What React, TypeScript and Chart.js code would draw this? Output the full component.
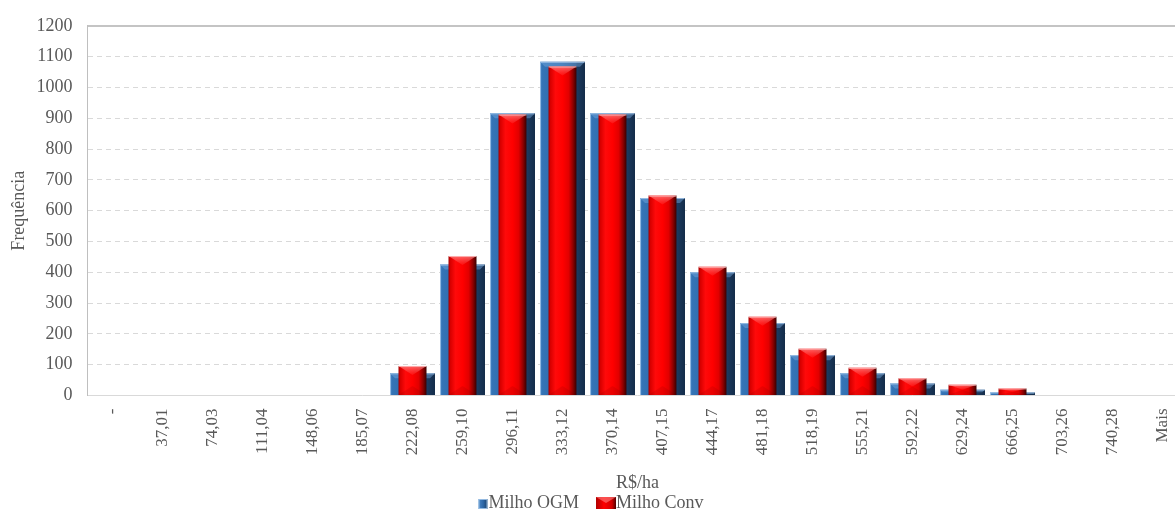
import { useEffect, useRef } from 'react';
import { Chart, registerables } from 'chart.js';

Chart.register(...registerables);

// Class limits (R$/ha) of the frequency histogram
const categories = [
  '-', '37,01', '74,03', '111,04', '148,06', '185,07', '222,08', '259,10',
  '296,11', '333,12', '370,14', '407,15', '444,17', '481,18', '518,19',
  '555,21', '592,22', '629,24', '666,25', '703,26', '740,28', 'Mais',
];

// Frequencies per class
const milhoOGM = [0, 0, 0, 0, 0, 0, 72, 425, 916, 1083, 916, 641, 400, 235, 131, 72, 39, 19, 10, 0, 0, 0];
const milhoConv = [0, 0, 0, 0, 0, 0, 96, 453, 912, 1068, 912, 649, 418, 256, 152, 90, 56, 35, 23, 0, 0, 0];

// Value axis
const yMin = 0;
const yMax = 1200;
const yStep = 100;

const FONT = "'Liberation Serif', 'Times New Roman', Times, serif";
const TEXT = '#595959';

const BAR_PCT: Record<string, number> = { ogm: 0.9, conv: 0.56 };

const STOPS: Record<string, [number, string][]> = {
  ogm: [
    [0, '#4B88C8'],
    [0.05, '#3574B6'],
    [0.5, '#2B65A4'],
    [0.79, '#22497A'],
    [0.83, '#1B3A5F'],
    [1, '#142C49'],
  ],
  conv: [
    [0, '#A00000'],
    [0.07, '#D80000'],
    [0.25, '#FF0A0A'],
    [0.5, '#FF0000'],
    [0.72, '#E20000'],
    [0.88, '#8A0000'],
    [1, '#380000'],
  ],
};

// Horizontal shading across each bar, anchored on the category scale
function barFill(kind: string) {
  return (ctx: any) => {
    const chart = ctx.chart;
    const xs = chart.scales && chart.scales.x;
    const fallback = kind === 'ogm' ? '#2B65A4' : '#F00000';
    if (ctx.type !== 'data' || !xs || !chart.chartArea) return fallback;
    const cx = xs.getPixelForValue(ctx.dataIndex);
    const w = (xs.width / categories.length) * BAR_PCT[kind];
    const g = chart.ctx.createLinearGradient(cx - w / 2, 0, cx + w / 2, 0);
    STOPS[kind].forEach(([o, c]) => g.addColorStop(o, c));
    return g;
  };
}

// Bevel highlights drawn over each bar after its dataset is painted
const bevelPlugin = {
  id: 'barBevel',
  afterDatasetDraw(chart: any, args: any) {
    const ds = chart.data.datasets[args.index];
    const kind = ds.bevel;
    const ctx = chart.ctx;
    ctx.save();
    args.meta.data.forEach((el: any) => {
      const { x, y, base, width } = el.getProps(['x', 'y', 'base', 'width'], true);
      const height = base - y;
      if (height <= 0.5) return;
      const left = x - width / 2;
      const right = x + width / 2;
      if (kind === 'conv') {
        const h = Math.min(9, height / 2);
        const g = ctx.createLinearGradient(0, y, 0, y + h);
        g.addColorStop(0, 'rgba(255,150,150,0.7)');
        g.addColorStop(1, 'rgba(255,70,70,0.25)');
        ctx.fillStyle = g;
        ctx.beginPath();
        ctx.moveTo(left, y);
        ctx.lineTo(right, y);
        ctx.lineTo(x, y + h);
        ctx.closePath();
        ctx.fill();
        ctx.fillStyle = 'rgba(90,0,0,0.12)';
        ctx.beginPath();
        ctx.moveTo(left, base);
        ctx.lineTo(right, base);
        ctx.lineTo(x, base - h);
        ctx.closePath();
        ctx.fill();
        ctx.strokeStyle = 'rgba(255,200,200,0.75)';
        ctx.lineWidth = 1;
        ctx.beginPath();
        ctx.moveTo(left, y + 0.5);
        ctx.lineTo(right, y + 0.5);
        ctx.stroke();
      } else {
        const b = Math.min(5, height / 2);
        ctx.fillStyle = 'rgba(120,170,225,0.45)';
        ctx.beginPath();
        ctx.moveTo(left, y);
        ctx.lineTo(right, y);
        ctx.lineTo(right - b, y + b);
        ctx.lineTo(left + b, y + b);
        ctx.closePath();
        ctx.fill();
        ctx.strokeStyle = 'rgba(160,195,232,0.85)';
        ctx.lineWidth = 1;
        ctx.beginPath();
        ctx.moveTo(left + 0.5, base);
        ctx.lineTo(left + 0.5, y + 0.5);
        ctx.lineTo(right - 0.5, y + 0.5);
        ctx.stroke();
      }
    });
    ctx.restore();
  },
};

// Legend with small shaded swatches placed under the axis title
const swatchLegend = {
  id: 'swatchLegend',
  afterDraw(chart: any, _args: any, opts: any) {
    const ctx = chart.ctx;
    ctx.save();
    ctx.font = `${opts.size}px ${FONT}`;
    ctx.textBaseline = 'alphabetic';
    ctx.textAlign = 'left';
    const items = chart.data.datasets.map((ds: any) => ({ label: ds.label, kind: ds.bevel }));
    const swW = (k: string) => (k === 'ogm' ? 10 : 20);
    const widths = items.map((it: any) => swW(it.kind) + ctx.measureText(it.label).width);
    const total = widths.reduce((a: number, b: number) => a + b, 0) + opts.gap * (items.length - 1);
    let x = opts.centerX - total / 2;
    const base = opts.baseline;
    items.forEach((it: any, i: number) => {
      const w = swW(it.kind);
      if (it.kind === 'ogm') {
        const top = base - 9;
        const g = ctx.createLinearGradient(x, 0, x + w, 0);
        g.addColorStop(0, '#4A87C7');
        g.addColorStop(0.5, '#2B65A4');
        g.addColorStop(1, '#183659');
        ctx.fillStyle = g;
        ctx.fillRect(x, top, w - 1, 10);
        ctx.strokeStyle = 'rgba(160,195,232,0.9)';
        ctx.lineWidth = 1;
        ctx.strokeRect(x + 0.5, top + 0.5, w - 2, 9);
      } else {
        const top = base - 11;
        const g = ctx.createLinearGradient(x, 0, x + w, 0);
        g.addColorStop(0, '#B00000');
        g.addColorStop(0.4, '#FF0000');
        g.addColorStop(0.8, '#D00000');
        g.addColorStop(1, '#500000');
        ctx.fillStyle = g;
        ctx.fillRect(x, top, w, 12);
        ctx.fillStyle = 'rgba(255,130,130,0.6)';
        ctx.beginPath();
        ctx.moveTo(x, top);
        ctx.lineTo(x + w, top);
        ctx.lineTo(x + w / 2, top + 6);
        ctx.closePath();
        ctx.fill();
      }
      ctx.fillStyle = TEXT;
      ctx.fillText(it.label, x + w, base);
      x += widths[i] + opts.gap;
    });
    ctx.restore();
  },
};

export default function App() {
  const canvasRef = useRef<HTMLCanvasElement>(null);

  useEffect(() => {
    const canvas = canvasRef.current;
    if (!canvas) return;
    const chart = new Chart(canvas, {
      type: 'bar',
      data: {
        labels: categories,
        datasets: [
          {
            label: 'Milho OGM',
            data: milhoOGM,
            bevel: 'ogm',
            order: 1,
            grouped: false,
            barPercentage: BAR_PCT.ogm,
            categoryPercentage: 1,
            backgroundColor: barFill('ogm'),
            borderWidth: 0,
            xAxisID: 'x',
            yAxisID: 'y',
          } as any,
          {
            label: 'Milho Conv',
            data: milhoConv,
            bevel: 'conv',
            order: 0,
            grouped: false,
            barPercentage: BAR_PCT.conv,
            categoryPercentage: 1,
            backgroundColor: barFill('conv'),
            borderWidth: 0,
            xAxisID: 'x',
            yAxisID: 'y',
          } as any,
        ],
      },
      options: {
        responsive: false,
        animation: false,
        devicePixelRatio: 1,
        layout: { padding: { top: 23, right: 12.5, bottom: 19, left: 0 } },
        plugins: {
          legend: { display: false },
          tooltip: { enabled: false },
          swatchLegend: { size: 18, gap: 17, centerX: 591, baseline: 508 },
        } as any,
        scales: {
          x: {
            type: 'category',
            position: 'bottom',
            offset: true,
            grid: { display: false, drawTicks: false },
            border: { display: true, color: '#D9D9D9', width: 1 },
            ticks: {
              autoSkip: false,
              maxRotation: 90,
              minRotation: 90,
              padding: 13,
              color: TEXT,
              font: { family: FONT, size: 17 },
            },
            title: {
              display: true,
              text: 'R$/ha',
              color: TEXT,
              font: { family: FONT, size: 18 },
              padding: { top: 0, bottom: 1 },
            },
            afterFit: (s: any) => {
              s.height = 99.5;
            },
          },
          xTop: {
            type: 'category',
            position: 'top',
            offset: true,
            grid: { display: false, drawTicks: false },
            ticks: { display: false },
            border: { display: true, color: '#C4C4C4', width: 2 },
          },
          y: {
            min: yMin,
            max: yMax,
            ticks: {
              stepSize: yStep,
              padding: 15,
              color: TEXT,
              font: { family: FONT, size: 18 },
              callback: (v: any) => String(v),
            },
            grid: {
              color: (c: any) =>
                c.tick && (c.tick.value === yMin || c.tick.value === yMax) ? 'rgba(0,0,0,0)' : '#D9D9D9',
              lineWidth: 1,
              drawTicks: false,
            },
            border: { display: true, color: '#BFBFBF', width: 1, dash: [5, 4] },
            title: {
              display: true,
              text: 'Frequência',
              color: TEXT,
              font: { family: FONT, size: 18 },
              padding: { top: 8, bottom: 0 },
            },
            afterFit: (s: any) => {
              s.width = 87.5;
            },
          },
        } as any,
      },
      plugins: [bevelPlugin, swatchLegend],
    });
    return () => chart.destroy();
  }, []);

  return (
    <div
      style={{
        position: 'absolute',
        left: 0,
        top: 0,
        width: 1175,
        height: 514,
        overflow: 'hidden',
        background: '#ffffff',
      }}
    >
      <canvas ref={canvasRef} width={1200} height={514} style={{ display: 'block' }} />
    </div>
  );
}
